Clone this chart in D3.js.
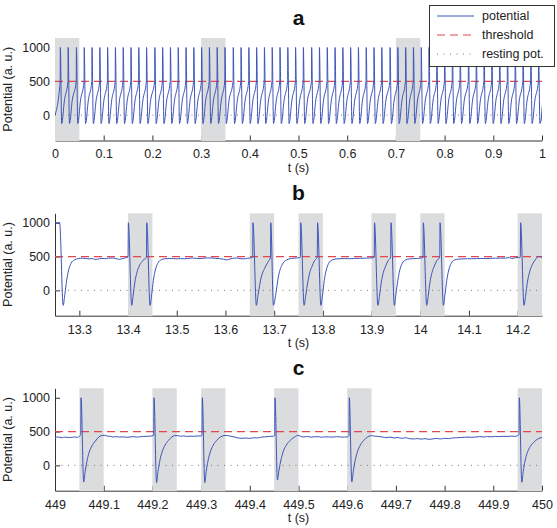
<!DOCTYPE html>
<html>
<head>
<meta charset="utf-8">
<script src="https://cdn.jsdelivr.net/npm/d3@7"></script>
<style>
  body { margin: 0; background: #fff; }
  svg { display: block; font-family: "Liberation Sans", Arial, Helvetica, sans-serif; }
  .axis text { font-size: 12.5px; fill: #222; }
  .axis path, .axis line { stroke: #333; }
</style>
</head>
<body>
<svg width="557" height="528"></svg>
<script>
// ---- data ----
var yTicks = [0, 500, 1000];
var threshold = 500, restingPot = 0;

// panel a
var ticksA = [0, 0.1, 0.2, 0.3, 0.4, 0.5, 0.6, 0.7, 0.8, 0.9, 1];
var bandsA = [[0, 0.05], [0.3, 0.35], [0.7, 0.75]];
var spikeTimesA = [0.011, 0.027, 0.044, 0.060, 0.076, 0.092, 0.108, 0.124, 0.140, 0.156,
  0.172, 0.188, 0.205, 0.221, 0.237, 0.253, 0.269, 0.285, 0.301, 0.317,
  0.333, 0.349, 0.366, 0.382, 0.398, 0.414, 0.430, 0.446, 0.462, 0.478,
  0.494, 0.510, 0.527, 0.543, 0.559, 0.575, 0.591, 0.607, 0.623, 0.639,
  0.655, 0.671, 0.688, 0.704, 0.720, 0.736, 0.752, 0.768, 0.784, 0.800,
  0.816, 0.832, 0.849, 0.865, 0.881, 0.897, 0.913, 0.929, 0.945, 0.961,
  0.977, 0.993];
// shape of one cycle, offsets (s) after a spike
var cycleA = [[-0.0004, 500], [0, 1000], [0.0027, -125], [0.0085, 225]];
var startA = [0, 0], endA = [1, -85];

// panel b
var ticksB = [13.3, 13.4, 13.5, 13.6, 13.7, 13.8, 13.9, 14, 14.1, 14.2];
var bandsB = [[13.40, 13.45], [13.65, 13.70], [13.75, 13.80], [13.90, 13.95], [14.00, 14.05], [14.20, 14.25]];
var seriesB = [
  [13.2500, 1000], [13.2595, 1000], [13.2668, -222], [13.2702, -60], [13.2740, 150], [13.2780, 300],
  [13.2830, 400], [13.2900, 452], [13.2980, 470], [13.3060, 476], [13.3130, 472], [13.3200, 466],
  [13.3260, 470], [13.3320, 458], [13.3380, 462], [13.3450, 472], [13.3520, 470], [13.3600, 476],
  [13.3680, 478], [13.3750, 470], [13.3820, 458], [13.3880, 468], [13.3950, 482], [13.4000, 495],
  [13.4006, 1000], [13.4075, -222], [13.4105, -70], [13.4140, 120], [13.4180, 260], [13.4230, 360],
  [13.4290, 425], [13.4340, 465], [13.4378, 492],
  [13.4384, 1000], [13.4452, -222], [13.4485, -60], [13.4520, 150], [13.4560, 300], [13.4610, 400],
  [13.4680, 452], [13.4760, 468], [13.4850, 472], [13.4930, 470], [13.5000, 466], [13.5080, 470],
  [13.5160, 468], [13.5240, 472], [13.5320, 478], [13.5400, 474], [13.5480, 470], [13.5560, 476],
  [13.5640, 480], [13.5720, 478], [13.5800, 474], [13.5880, 470], [13.5960, 460], [13.6020, 452],
  [13.6080, 462], [13.6150, 474], [13.6220, 478], [13.6300, 470], [13.6380, 466], [13.6450, 474],
  [13.6520, 480], [13.6559, 492],
  [13.6565, 1000], [13.6635, -222], [13.6668, -74], [13.6735, 196], [13.6800, 320], [13.6870, 416],
  [13.6925, 490],
  [13.6931, 1000], [13.6985, -222], [13.7035, -50], [13.7085, 196], [13.7155, 368], [13.7255, 450],
  [13.7390, 475], [13.7460, 478], [13.7520, 485], [13.7540, 492],
  [13.7546, 1000], [13.7615, -222], [13.7650, -70], [13.7690, 120], [13.7730, 260], [13.7780, 360],
  [13.7830, 440], [13.7885, 492],
  [13.7891, 1000], [13.7960, -222], [13.7995, -60], [13.8030, 150], [13.8070, 300], [13.8120, 400],
  [13.8190, 450], [13.8270, 465], [13.8350, 468], [13.8450, 470], [13.8550, 468], [13.8650, 472],
  [13.8750, 474], [13.8850, 476], [13.8950, 478], [13.9030, 482], [13.9055, 492],
  [13.9061, 1000], [13.9130, -222], [13.9165, -70], [13.9200, 120], [13.9240, 260], [13.9290, 360],
  [13.9340, 440], [13.9393, 492],
  [13.9399, 1000], [13.9468, -222], [13.9500, -60], [13.9540, 150], [13.9580, 300], [13.9630, 400],
  [13.9700, 450], [13.9780, 465], [13.9860, 470], [13.9940, 472], [14.0000, 476], [14.0057, 490],
  [14.0063, 1000], [14.0132, -222], [14.0165, -70], [14.0200, 120], [14.0240, 260], [14.0290, 360],
  [14.0340, 440], [14.0400, 492],
  [14.0406, 1000], [14.0475, -222], [14.0508, -60], [14.0545, 150], [14.0585, 300], [14.0635, 400],
  [14.0705, 450], [14.0790, 462], [14.0880, 466], [14.0970, 468], [14.1060, 468], [14.1150, 470],
  [14.1250, 472], [14.1350, 470], [14.1450, 474], [14.1550, 476], [14.1650, 476], [14.1750, 478],
  [14.1830, 484], [14.1880, 470], [14.1950, 482], [14.2020, 486], [14.2055, 492],
  [14.2061, 1000], [14.2130, -222], [14.2165, -70], [14.2200, 120], [14.2245, 270], [14.2300, 380],
  [14.2360, 450], [14.2410, 492], [14.2450, 500], [14.2500, 485]
];

// panel c
var ticksC = [449, 449.1, 449.2, 449.3, 449.4, 449.5, 449.6, 449.7, 449.8, 449.9, 450];
var bandsC = [[449.05, 449.10], [449.20, 449.25], [449.30, 449.35], [449.45, 449.50], [449.60, 449.65], [449.95, 450.00]];
var seriesC = [
  [449.000, 412], [449.005, 420], [449.010, 415], [449.015, 410], [449.020, 418], [449.025, 414],
  [449.030, 410], [449.035, 416], [449.040, 420], [449.046, 414], [449.050, 428], [449.0528, 470],
  [449.0534, 1000], [449.0590, -245], [449.0620, -90], [449.0655, 60], [449.0700, 190], [449.0760, 290],
  [449.0830, 360], [449.0900, 420], [449.0960, 442], [449.1020, 445], [449.1080, 432], [449.1140, 428],
  [449.1200, 420], [449.1270, 425], [449.1330, 418], [449.1400, 422], [449.1470, 416], [449.1540, 420],
  [449.1610, 425], [449.1680, 418], [449.1750, 424], [449.1820, 428], [449.1890, 430], [449.1960, 432],
  [449.2026, 445],
  [449.2033, 1000], [449.2085, -255], [449.2115, -90], [449.2150, 60], [449.2200, 200], [449.2260, 300],
  [449.2330, 370], [449.2400, 420], [449.2460, 440], [449.2520, 440], [449.2580, 430], [449.2640, 436],
  [449.2700, 428], [449.2770, 432], [449.2840, 430], [449.2920, 434], [449.3000, 436], [449.3018, 450],
  [449.3025, 1000], [449.3075, -255], [449.3105, -90], [449.3140, 60], [449.3190, 200], [449.3250, 300],
  [449.3320, 370], [449.3400, 420], [449.3470, 440], [449.3530, 442], [449.3600, 432], [449.3680, 420],
  [449.3760, 405], [449.3840, 400], [449.3920, 405], [449.4000, 398], [449.4080, 410], [449.4160, 405],
  [449.4240, 418], [449.4320, 422], [449.4400, 428], [449.4480, 430], [449.4510, 445],
  [449.4517, 1000], [449.4567, -215], [449.4600, -70], [449.4640, 80], [449.4690, 210], [449.4750, 300],
  [449.4830, 370], [449.4920, 420], [449.4990, 445], [449.5040, 430], [449.5110, 420], [449.5180, 428],
  [449.5250, 418], [449.5320, 422], [449.5400, 425], [449.5470, 416], [449.5540, 422], [449.5620, 420],
  [449.5700, 418], [449.5780, 424], [449.5860, 420], [449.5940, 418], [449.6000, 422], [449.6036, 440],
  [449.6043, 1000], [449.6095, -245], [449.6125, -90], [449.6160, 60], [449.6210, 200], [449.6270, 300],
  [449.6340, 370], [449.6420, 420], [449.6490, 440], [449.6560, 432], [449.6640, 428], [449.6720, 420],
  [449.6800, 410], [449.6880, 418], [449.6960, 405], [449.7040, 412], [449.7120, 400], [449.7200, 408],
  [449.7280, 395], [449.7360, 390], [449.7440, 396], [449.7520, 388], [449.7600, 395], [449.7680, 385],
  [449.7760, 392], [449.7840, 398], [449.7920, 390], [449.8000, 400], [449.8080, 395], [449.8160, 405],
  [449.8240, 408], [449.8320, 412], [449.8400, 415], [449.8480, 418], [449.8560, 414], [449.8640, 420],
  [449.8720, 425], [449.8800, 420], [449.8880, 426], [449.8960, 422], [449.9040, 428], [449.9120, 425],
  [449.9200, 430], [449.9280, 428], [449.9360, 432], [449.9440, 430], [449.9500, 440], [449.9528, 460],
  [449.9534, 1000], [449.9585, -250], [449.9615, -90], [449.9650, 60], [449.9700, 190], [449.9760, 280],
  [449.9830, 340], [449.9900, 385], [449.9960, 405], [450.0000, 412]
];

var legendItems = ['potential', 'threshold', 'resting pot.'];

// ---- build panel a trace from spike times and the cycle shape ----
function buildA() {
  var pts = [startA];
  spikeTimesA.forEach(function(ts) {
    cycleA.forEach(function(c) {
      pts.push([ts + c[0], c[1]]);
    });
  });
  pts.push(endA);
  return pts;
}

var svg = d3.select('svg');
var colBlue = '#3d55b8', colRed = '#e2474e', colDot = '#777', colBand = '#dadcdd';
var left = 55, right = 542;

function drawPanel(cfg) {
  var x = d3.scaleLinear().domain(cfg.domain).range([left, right]);
  var y = d3.scaleLinear().domain([-375, 1140]).range([cfg.bottom, cfg.top]);
  var g = svg.append('g');

  var clipId = 'clip-' + cfg.name;
  g.append('clipPath').attr('id', clipId)
    .append('rect')
    .attr('x', left).attr('y', cfg.top)
    .attr('width', right - left).attr('height', cfg.bottom - cfg.top);

  // axes
  g.append('g').attr('class', 'axis')
    .attr('transform', 'translate(0,' + cfg.bottom + ')')
    .call(d3.axisBottom(x).tickValues(cfg.ticks).tickFormat(function(d) { return String(d); })
      .tickSize(-5).tickSizeOuter(0).tickPadding(9));
  g.append('g').attr('class', 'axis')
    .attr('transform', 'translate(' + left + ',0)')
    .call(d3.axisLeft(y).tickValues(yTicks).tickFormat(d3.format('d'))
      .tickSize(-5).tickSizeOuter(0).tickPadding(5));

  // shaded windows, drawn over the axes
  g.append('g').selectAll('rect')
    .data(cfg.bands)
    .join('rect')
    .attr('x', function(d) { return x(d[0]); })
    .attr('width', function(d) { return x(d[1]) - x(d[0]); })
    .attr('y', cfg.top)
    .attr('height', cfg.bottom - cfg.top + 0.5)
    .style('fill', colBand);

  var plot = g.append('g').attr('clip-path', 'url(#' + clipId + ')');

  // resting potential, threshold
  plot.append('line')
    .attr('x1', x(cfg.domain[0])).attr('x2', x(cfg.domain[1]))
    .attr('y1', y(restingPot)).attr('y2', y(restingPot))
    .style('stroke', colDot).style('stroke-width', 1).style('stroke-dasharray', '1 5.5');
  plot.append('line')
    .attr('x1', x(cfg.domain[0])).attr('x2', x(cfg.domain[1]))
    .attr('y1', y(threshold)).attr('y2', y(threshold))
    .style('stroke', colRed).style('stroke-width', 1.2).style('stroke-dasharray', '8 5');

  // potential trace
  var line = d3.line()
    .x(function(d) { return x(d[0]); })
    .y(function(d) { return y(d[1]); })
    .curve(d3.curveMonotoneX);
  plot.append('path')
    .datum(cfg.series)
    .attr('d', line)
    .style('fill', 'none')
    .style('stroke', colBlue)
    .style('stroke-width', 1);

  // labels
  g.append('text')
    .attr('x', (left + right) / 2).attr('y', cfg.bottom + 31)
    .attr('text-anchor', 'middle')
    .style('font-size', '12.5px').style('fill', '#222')
    .text('t (s)');
  g.append('text')
    .attr('transform', 'translate(12,' + (cfg.top + cfg.bottom) / 2 + ') rotate(-90)')
    .attr('text-anchor', 'middle')
    .style('font-size', '12.5px').style('fill', '#222')
    .text('Potential (a. u.)');
  g.append('text')
    .attr('x', (left + right) / 2).attr('y', cfg.top - 13)
    .attr('text-anchor', 'middle')
    .style('font-size', '21px').style('font-weight', 'bold').style('fill', '#111')
    .text(cfg.name);
}

function drawLegend() {
  var lg = svg.append('g');
  lg.append('rect')
    .attr('x', 429.5).attr('y', 5.5).attr('width', 125).attr('height', 61)
    .style('fill', '#fff').style('stroke', '#333').style('stroke-width', 1);
  var styles = [
    { stroke: colBlue, dash: null, w: 1 },
    { stroke: colRed, dash: '8 5', w: 1.2 },
    { stroke: colDot, dash: '1 5.5', w: 1 }
  ];
  lg.selectAll('g.item')
    .data(legendItems)
    .join('g')
    .attr('class', 'item')
    .each(function(d, i) {
      var it = d3.select(this);
      var yy = 16 + i * 19;
      it.append('line')
        .attr('x1', 437).attr('x2', 474).attr('y1', yy).attr('y2', yy)
        .style('stroke', styles[i].stroke)
        .style('stroke-width', styles[i].w)
        .style('stroke-dasharray', styles[i].dash);
      it.append('text')
        .attr('x', 482).attr('y', yy).attr('dy', '0.35em')
        .style('font-size', '12.5px').style('fill', '#222')
        .text(d);
    });
}

drawPanel({ name: 'a', domain: [0, 1], ticks: ticksA, bands: bandsA, series: buildA(), top: 38, bottom: 140.5 });
drawPanel({ name: 'b', domain: [13.25, 14.25], ticks: ticksB, bands: bandsB, series: seriesB, top: 213.3, bottom: 315.7 });
drawPanel({ name: 'c', domain: [449, 450], ticks: ticksC, bands: bandsC, series: seriesC, top: 388.3, bottom: 490.7 });
drawLegend();
</script>
</body>
</html>
